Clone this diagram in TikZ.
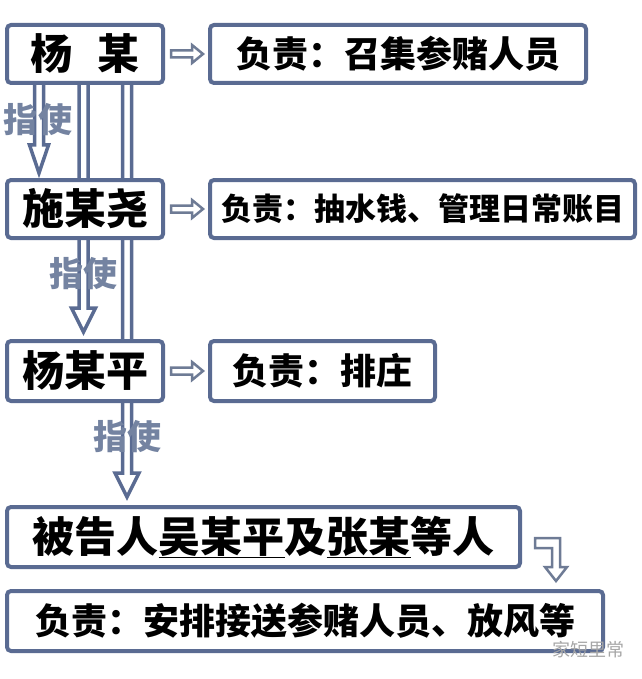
\documentclass[tikz,border=0pt]{standalone}
\usepackage{fontspec}
\setmainfont{Noto Sans CJK SC}
\usepackage{tikz}
\usetikzlibrary{calc}
\definecolor{boxblue}{HTML}{5A6B92}
\definecolor{labelblue}{HTML}{7483A1}
\definecolor{smallgray}{HTML}{6E7B95}
\newcommand\hollowdown[4]{% top, shaft length, head half width, head length
	\draw[bigarrow] #1 ++(-4.5,0) -- ++(0,#2) -- ++(4.5-#3,0) -- ++(#3,#4) -- ++(#3,-#4) -- ++(4.5-#3,0) -- ++(0,-#2) -- cycle;}
\newcommand\hollowright[1]{%
	\draw[smallarrow] #1 ++(0,-3.5) -- ++(21,0) -- ++(0,-5.5) -- ++(11,9) -- ++(-11,9) -- ++(0,-5.5) -- ++(-21,0) -- cycle;}

\begin{document}
\begin{tikzpicture}[x=1pt, y=-1pt,
	box/.style={draw=boxblue, line width=4pt, rounded corners=4pt, fill=white, inner sep=0pt, minimum height=58pt},
	namebox/.style={box, minimum width=156pt, font=\fontsize{42}{42}\selectfont\bfseries},
	dutybox/.style={box, font=\fontsize{36}{36}\selectfont\bfseries},
	bigarrow/.style={draw=boxblue, line width=3.5pt, fill=white, line join=miter},
	smallarrow/.style={draw=smallgray, line width=2.5pt, fill=white, line join=miter},
	order/.style={text=labelblue, font=\fontsize{34}{34}\selectfont\bfseries}]
	\useasboundingbox (0,0) rectangle (641,679);
	%% arrows behind the boxes
	\coordinate (a1) at (39,78);
	\coordinate (a2) at (83.5,78);
	\coordinate (a3) at (127,78);
	\hollowdown{(a1)}{67}{9.5}{28}
	\hollowdown{(a2)}{230}{12}{24}
	\hollowdown{(a3)}{395}{12}{24}
	%%
	\node[namebox] (yang) at (85,54) {杨\hspace{0.6em}某};
	\node[dutybox, minimum width=376pt] (yangduty) at (398,54) {负责：召集参赌人员};
	%%
	\node[namebox] (shi) at (85,209) {施某尧};
	\node[dutybox, minimum width=425pt, font=\fontsize{31}{31}\selectfont\bfseries] (shiduty) at (422.5,209) {负责：抽水钱、管理日常账目};
	%%
	\node[namebox, minimum height=60pt] (yangping) at (85,371) {杨某平};
	\node[dutybox, minimum width=225pt, minimum height=60pt] (pingduty) at (322.5,371) {负责：排庄};
	%%
	\node[namebox, minimum width=513pt, minimum height=60pt] (beigao) at (263.5,537) {被告人\underline{吴某平}及\underline{张某}等人};
	\node[dutybox, minimum width=596pt, minimum height=60pt] (fuze) at (305,621) {负责：安排接送参赌人员、放风等};
	%%
	\node[order] (zhi1) at (38,120) {指使};
	\node[order] (zhi2) at (83,274) {指使};
	\node[order] (zhi3) at (127,437) {指使};
	%%
	\hollowright{($(yang.east)+(6,0)$)}
	\hollowright{($(shi.east)+(6,0)$)}
	\hollowright{($(yangping.east)+(6,0)$)}
	%%
	\coordinate (bend) at ($(beigao.east)+(13,1)$);
	\draw[smallarrow] (bend) -- ++(25,0) -- ++(0,29) -- ++(7,0) -- ++(-11,14) -- ++(-11,-14) -- ++(7,0) -- ++(0,-19) -- ++(-17,0) -- cycle;
	%%
	\node[text=black!35, font=\fontsize{18}{18}\selectfont] (mark) at (588,650) {家短里常};
\end{tikzpicture}
\end{document}
